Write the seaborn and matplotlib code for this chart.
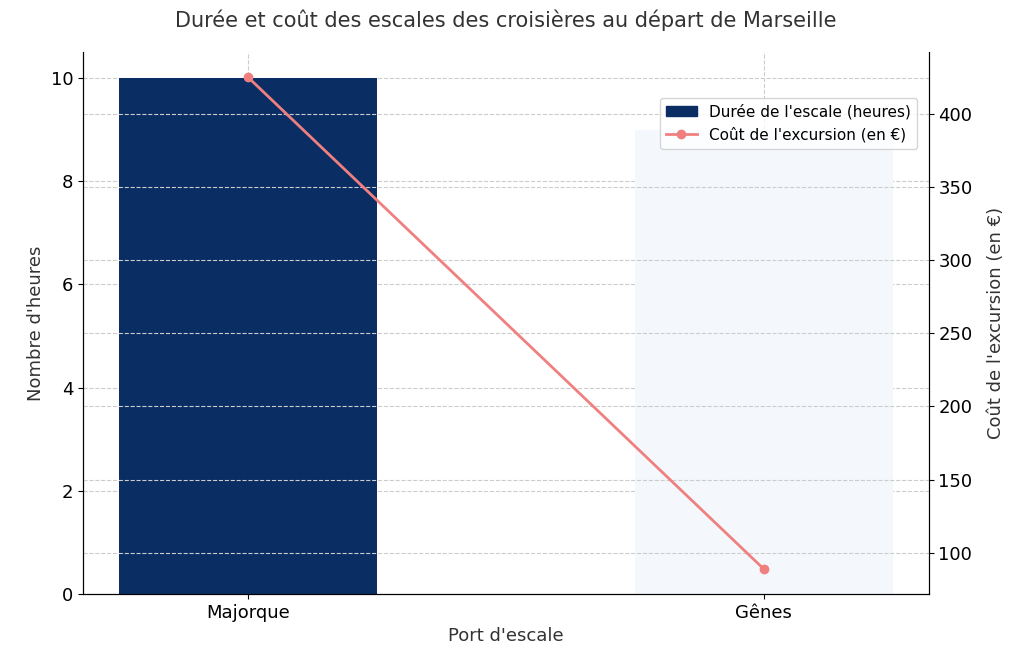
import pandas as pd
import matplotlib.pyplot as plt
import seaborn as sns

ports = ["Majorque", "Gênes"]
durees = [10, 9]
couts = [425, 89]
bar_colors = ["#0a2d64", "#f4f8fd"]


def main():
    df = pd.DataFrame({"Port": ports, "Duree": durees, "Cout": couts})

    fig, ax = plt.subplots(figsize=(10.24, 6.54), dpi=100)
    sns.barplot(data=df, x="Port", y="Duree", hue="Port", palette=bar_colors,
                width=0.5, legend=False, ax=ax, saturation=1)
    ax.set_xlim(-0.32, 1.32)
    ax.set_ylim(0, 10.5)
    ax.set_xlabel("Port d'escale", fontsize=13, color="#333333")
    ax.set_ylabel("Nombre d'heures", fontsize=13, color="#333333")
    ax.tick_params(labelsize=13)
    ax.grid(True, linestyle="--", color="#cccccc", linewidth=0.8)
    ax.set_axisbelow(True)
    ax.spines["top"].set_visible(False)

    ax2 = ax.twinx()
    ax2.plot([0, 1], df["Cout"], color="#f08080", marker="o", linewidth=2,
             label="Coût de l'excursion (en €)")
    ax2.set_ylim(72, 442)
    ax2.set_ylabel("Coût de l'excursion (en €)", fontsize=13, color="#333333", labelpad=10)
    ax2.tick_params(labelsize=13)
    ax2.grid(True, linestyle="--", color="#cccccc", linewidth=0.8)
    ax2.spines["top"].set_visible(False)

    handles = [plt.Rectangle((0, 0), 1, 1, color=bar_colors[0])]
    h2, l2 = ax2.get_legend_handles_labels()
    ax2.legend(handles + h2, ["Durée de l'escale (heures)"] + l2,
               loc="upper right", bbox_to_anchor=(0.995, 0.93), fontsize=11)

    plt.title("Durée et coût des escales des croisières au départ de Marseille",
              fontsize=15, color="#333333", pad=18)
    fig.subplots_adjust(left=0.081, right=0.907, top=0.92, bottom=0.092)
    fig.savefig("out.png")


if __name__ == "__main__":
    main()
